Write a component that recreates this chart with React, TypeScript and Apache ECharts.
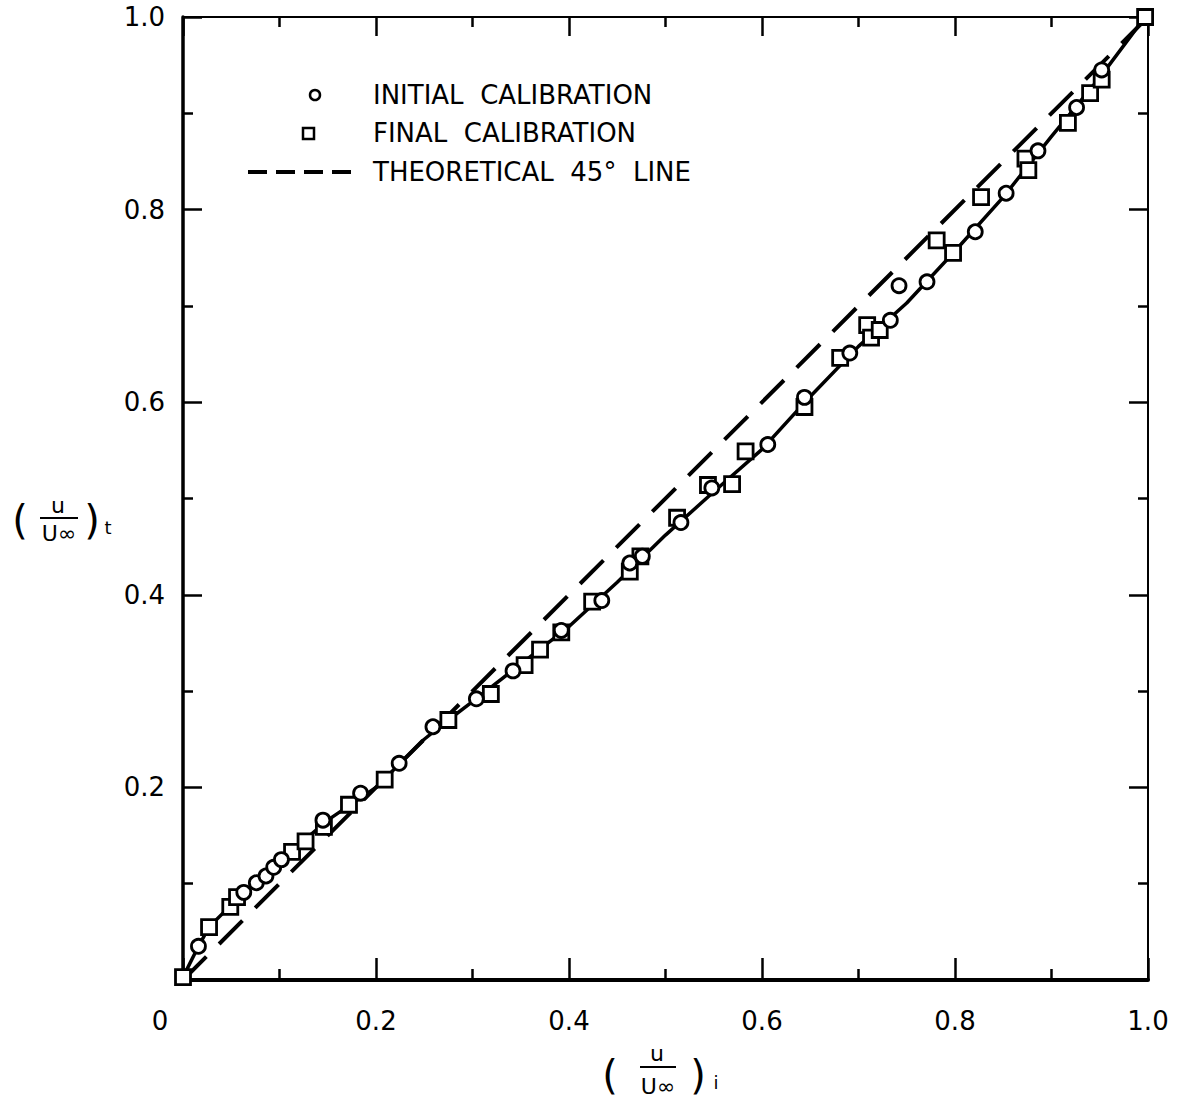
import React, { useEffect, useRef } from "react";
import * as echarts from "echarts";

// Initial calibration (circles): [ (u/U∞)i , (u/U∞)t ]
const initialX = [0.016, 0.063, 0.076, 0.086, 0.094, 0.102, 0.145, 0.184, 0.224, 0.259, 0.304, 0.342, 0.392, 0.434, 0.463, 0.476, 0.516, 0.548, 0.606, 0.644, 0.691, 0.733, 0.742, 0.771, 0.821, 0.853, 0.886, 0.926, 0.952];
const initialY = [0.035, 0.091, 0.101, 0.108, 0.117, 0.125, 0.166, 0.194, 0.225, 0.263, 0.292, 0.321, 0.363, 0.394, 0.433, 0.44, 0.475, 0.511, 0.556, 0.605, 0.651, 0.685, 0.721, 0.725, 0.777, 0.817, 0.861, 0.906, 0.945];

// Final calibration (squares)
const finalX = [0.0, 0.027, 0.049, 0.056, 0.113, 0.127, 0.146, 0.172, 0.209, 0.275, 0.319, 0.354, 0.37, 0.392, 0.424, 0.463, 0.474, 0.512, 0.544, 0.569, 0.583, 0.644, 0.681, 0.709, 0.713, 0.722, 0.781, 0.798, 0.827, 0.873, 0.876, 0.917, 0.94, 0.952, 0.997];
const finalY = [0.003, 0.055, 0.076, 0.086, 0.133, 0.144, 0.159, 0.182, 0.208, 0.27, 0.297, 0.327, 0.343, 0.361, 0.393, 0.424, 0.44, 0.48, 0.514, 0.515, 0.549, 0.595, 0.646, 0.68, 0.667, 0.675, 0.768, 0.755, 0.813, 0.853, 0.841, 0.89, 0.921, 0.935, 1.0];

// Faired calibration curve (solid line)
const fitX = [0, 0.016, 0.027, 0.05, 0.1, 0.15, 0.2, 0.25, 0.275, 0.3, 0.35, 0.4, 0.45, 0.5, 0.55, 0.6, 0.65, 0.7, 0.75, 0.8, 0.85, 0.9, 0.95, 0.997];
const fitY = [0.003, 0.035, 0.055, 0.078, 0.123, 0.166, 0.2, 0.25, 0.27, 0.289, 0.328, 0.367, 0.413, 0.462, 0.507, 0.551, 0.606, 0.658, 0.703, 0.757, 0.813, 0.876, 0.937, 1.0];

// Theoretical 45° line
const theoryX = [0, 1];
const theoryY = [0, 1];

const xTickLabels = ["0", "0.2", "0.4", "0.6", "0.8", "1.0"];
const yTickLabels = ["", "0.2", "0.4", "0.6", "0.8", "1.0"];

const legendInitial = "INITIAL  CALIBRATION";
const legendFinal = "FINAL  CALIBRATION";
const legendTheory = "THEORETICAL  45°  LINE";

const FONT = "DejaVu Sans";

function zip(xs: number[], ys: number[]) {
  return xs.map((x, i) => [x, ys[i]]);
}

export default function App() {
  const ref = useRef<HTMLDivElement>(null);

  useEffect(() => {
    if (!ref.current) return;
    const chart = echarts.init(ref.current, undefined, { renderer: "svg" });

    const axisCommon = {
      type: "value" as const,
      min: 0,
      max: 1,
      interval: 0.2,
      splitLine: { show: false },
      axisLine: { show: true, onZero: false, lineStyle: { color: "#000", width: 2 } },
      axisTick: { show: true, inside: true, length: 19, lineStyle: { color: "#000", width: 2.5 } },
      minorTick: { show: true, splitNumber: 2, length: 10, lineStyle: { color: "#000", width: 2.5 } },
    };

    const fracText = (x: number, y: number, t: string, size: number, extra: any = {}) => ({
      type: "text",
      x,
      y,
      style: { text: t, fontFamily: FONT, fontSize: size, fill: "#000", align: "center", verticalAlign: "middle", ...extra },
    });

    chart.setOption({
      animation: false,
      backgroundColor: "#fff",
      grid: { left: 183, top: 17, width: 965, height: 963, containLabel: false },
      xAxis: [
        {
          ...axisCommon,
          position: "bottom",
          axisLine: { show: true, onZero: false, lineStyle: { color: "#000", width: 4 } },
          axisTick: { show: true, inside: true, length: 22, lineStyle: { color: "#000", width: 2.5 } },
          minorTick: { show: true, splitNumber: 2, length: 11, lineStyle: { color: "#000", width: 2.5 } },
          axisLabel: {
            margin: 28,
            fontFamily: FONT,
            fontSize: 26,
            color: "#000",
            formatter: (v: number) => {
              const idx = Math.round(v / 0.2);
              const s = xTickLabels[idx] ?? "";
              return idx === 0 ? "{z|" + s + "}" : s;
            },
            rich: { z: { fontFamily: FONT, fontSize: 26, color: "#000", padding: [0, 46, 0, 0] } },
          },
        },
        {
          ...axisCommon,
          position: "top",
          axisLabel: { show: false },
        },
      ],
      yAxis: [
        {
          ...axisCommon,
          position: "left",
          axisLine: { show: true, onZero: false, lineStyle: { color: "#000", width: 3.5 } },
          axisLabel: {
            margin: 18,
            fontFamily: FONT,
            fontSize: 26,
            color: "#000",
            formatter: (v: number) => yTickLabels[Math.round(v / 0.2)] ?? "",
          },
        },
        {
          ...axisCommon,
          position: "right",
          axisLabel: { show: false },
        },
      ],
      series: [
        {
          name: "fit",
          type: "line",
          data: zip(fitX, fitY),
          symbol: "none",
          lineStyle: { color: "#000", width: 3.5 },
          z: 2,
        },
        {
          name: "theory",
          type: "line",
          data: zip(theoryX, theoryY),
          symbol: "none",
          lineStyle: { color: "#000", width: 4, type: [33, 18] },
          z: 2,
        },
        {
          name: "INITIAL CALIBRATION",
          type: "scatter",
          data: zip(initialX, initialY),
          symbol: "circle",
          symbolSize: 14,
          itemStyle: { color: "#fff", borderColor: "#000", borderWidth: 2.8, opacity: 1 },
          z: 4,
        },
        {
          name: "FINAL CALIBRATION",
          type: "scatter",
          data: zip(finalX, finalY),
          symbol: "rect",
          symbolSize: 15,
          itemStyle: { color: "#fff", borderColor: "#000", borderWidth: 2.8, opacity: 1 },
          z: 3,
        },
      ],
      graphic: [
        // Legend
        { type: "circle", shape: { cx: 315, cy: 95, r: 5 }, style: { fill: "#fff", stroke: "#000", lineWidth: 2.5 } },
        { type: "rect", shape: { x: 303, y: 128, width: 11, height: 11 }, style: { fill: "#fff", stroke: "#000", lineWidth: 2.5 } },
        { type: "line", shape: { x1: 248, y1: 172, x2: 354, y2: 172 }, style: { stroke: "#000", lineWidth: 4, lineDash: [19, 9] } },
        { type: "text", x: 373, y: 95, style: { text: legendInitial, fontFamily: FONT, fontSize: 26, fill: "#000", verticalAlign: "middle" } },
        { type: "text", x: 373, y: 133, style: { text: legendFinal, fontFamily: FONT, fontSize: 26, fill: "#000", verticalAlign: "middle" } },
        { type: "text", x: 373, y: 172, style: { text: legendTheory, fontFamily: FONT, fontSize: 26, fill: "#000", verticalAlign: "middle" } },
        // Y axis title (u/U∞)t
        fracText(20, 520, "(", 40),
        fracText(58, 505, "u", 22),
        { type: "line", shape: { x1: 40, y1: 518, x2: 78, y2: 518 }, style: { stroke: "#000", lineWidth: 2 } },
        fracText(59, 533, "U∞", 22),
        fracText(92, 520, ")", 40),
        fracText(108, 527, "t", 18),
        // X axis title (u/U∞)i
        fracText(610, 1075, "(", 40),
        fracText(657, 1053, "u", 22),
        { type: "line", shape: { x1: 640, y1: 1067, x2: 676, y2: 1067 }, style: { stroke: "#000", lineWidth: 2 } },
        fracText(658, 1086, "U∞", 22),
        fracText(698, 1075, ")", 40),
        fracText(716, 1082, "i", 18),
      ],
    });

    return () => chart.dispose();
  }, []);

  return (
    <div
      ref={ref}
      style={{ position: "fixed", left: 0, top: 0, width: 1180, height: 1105, background: "#fff" }}
    />
  );
}
